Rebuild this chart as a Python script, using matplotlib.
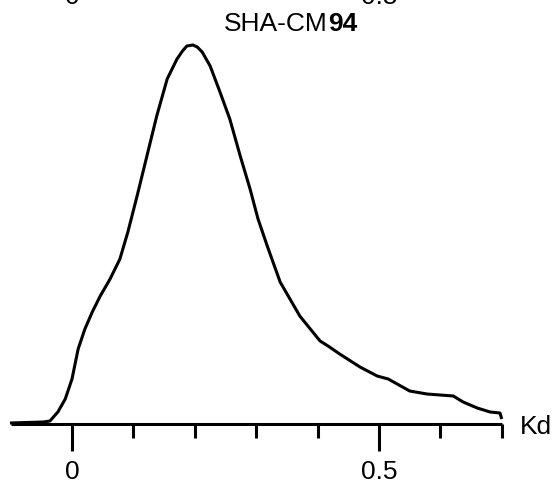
import matplotlib
matplotlib.use("Agg")
import matplotlib.pyplot as plt
from matplotlib.ticker import FixedLocator, NullFormatter

plt.rcParams['font.family'] = ['Liberation Sans', 'DejaVu Sans']

# Kd distribution
kd = [-0.101, -0.047, -0.036, -0.023, -0.011, 0.0, 0.010, 0.021, 0.033, 0.046,
      0.062, 0.078, 0.091, 0.106, 0.122, 0.138, 0.155, 0.171, 0.180, 0.187,
      0.197, 0.204, 0.212, 0.225, 0.241, 0.257, 0.274, 0.290, 0.303, 0.318,
      0.339, 0.371, 0.404, 0.417, 0.436, 0.469, 0.497, 0.515, 0.550, 0.578,
      0.621, 0.637, 0.660, 0.681, 0.697, 0.700]
density = [0.01, 0.02, 0.03, 0.12, 0.25, 0.45, 0.75, 0.95, 1.12, 1.28,
           1.45, 1.65, 1.92, 2.28, 2.68, 3.08, 3.45, 3.65, 3.73, 3.78,
           3.79, 3.77, 3.72, 3.58, 3.32, 3.05, 2.68, 2.35, 2.05, 1.78,
           1.42, 1.08, 0.83, 0.78, 0.70, 0.57, 0.48, 0.45, 0.33, 0.30,
           0.28, 0.22, 0.16, 0.12, 0.11, 0.05]

major_ticks = [0, 0.5]
major_labels = ["0", "0.5"]
minor_ticks = [0.1, 0.2, 0.3, 0.4, 0.6, 0.7]
title_main = "SHA-CM"
title_num = "94"
x_label = "Kd"

W, H = 554, 489
fig = plt.figure(figsize=(W / 100, H / 100), dpi=100)
ax = fig.add_axes([10.6 / W, (H - 425) / H, 491.2 / W, 385 / H])

ax.plot(kd, density, color='black', lw=2.2, clip_on=False,
        solid_capstyle='butt', solid_joinstyle='round')
ax.set_xlim(-0.1, 0.7)
ax.set_ylim(0, 3.85)

for s in ['top', 'right', 'left']:
    ax.spines[s].set_visible(False)
ax.spines['bottom'].set_linewidth(2.2)
ax.spines['bottom'].set_capstyle('butt')
ax.yaxis.set_visible(False)

ax.xaxis.set_major_locator(FixedLocator(major_ticks))
ax.set_xticklabels(major_labels)
ax.xaxis.set_minor_locator(FixedLocator(minor_ticks))
ax.xaxis.set_minor_formatter(NullFormatter())
ax.tick_params(axis='x', which='major', direction='out', length=19.5, width=2.2,
               labelsize=19, pad=5.5)
ax.tick_params(axis='x', which='minor', direction='out', length=10, width=2.2)

# axis name at the right end
fig.text(520 / W, 1 - 427 / H, x_label, fontsize=19, ha='left', va='center')

# title, with the number a little heavier
fig.text(328 / W, 1 - 24 / H, title_main, fontsize=19, ha='right', va='center')
fig.text(328 / W, 1 - 24 / H, title_num, fontsize=19, ha='left', va='center',
         fontweight='bold')

# tick labels of the panel above, cut off at the top edge as in the source
for lab, px in zip(major_labels, [72, 379]):
    fig.text(px / W, 1 - 4 / H, lab, fontsize=19, ha='center', va='baseline')

fig.savefig("out.png", dpi=100)
